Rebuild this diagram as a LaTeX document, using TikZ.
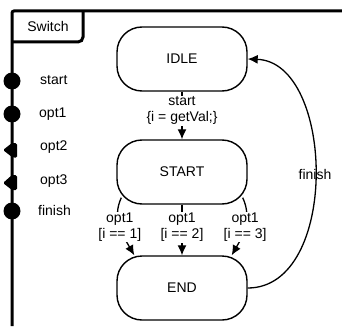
\documentclass[tikz,border=0pt]{standalone}
\usepackage{fontspec}
\setmainfont{Liberation Sans}
\usetikzlibrary{arrows.meta,calc}
\begin{document}
\begin{tikzpicture}[x=1pt,y=-1pt,
  txt/.style={font=\fontsize{14}{16}\selectfont, inner sep=1pt},
  state/.style={txt, draw, line width=1.4pt, rounded corners=25pt,
    minimum width=130pt, minimum height=64pt},
  frame/.style={line width=3pt},
  port/.style={circle, fill=black, minimum size=17pt, inner sep=0pt},
  portlbl/.style={txt, anchor=west},
  trans/.style={line width=1.3pt, -{Latex[length=10pt,width=9pt]}},
  guard/.style={txt, align=center, fill=white, inner sep=1pt},
]
\useasboundingbox (0,0) rectangle (342,326);

% component frame and its name tab
\draw[frame, rounded corners=2pt] (12,326) -- (12,11) -- (342,11);
\draw[frame, rounded corners=5pt] (12,42) -- (83,42) -- (83,11);
\node[txt] (swname) at (48,26) {Switch};

% ports on the left border
\node[port] (pstart) at (12,81) {};
\node[port] (popt1) at (12,114) {};
\fill[rounded corners=1.5pt] (17,143) -- (12,143) -- (3,150) -- (12,157) -- (17,158) -- cycle;
\fill[rounded corners=1.5pt] (17,175) -- (12,175) -- (3,183) -- (12,190) -- (17,190) -- cycle;
\node[port] (pfinish) at (12,211) {};

\node[portlbl] (lstart) at (39,80) {start};
\node[portlbl] (lopt1) at (38,114) {opt1};
\node[portlbl] (lopt2) at (39,147) {opt2};
\node[portlbl] (lopt3) at (39,181) {opt3};
\node[portlbl] (lfinish) at (37,210) {finish};

% states
\node[state] (IDLE) at (182,59) {IDLE};
\node[state] (START) at (182,172) {START};
\node[state] (END) at (182,288) {END};

% transitions
\draw[trans] (IDLE) -- node[guard, pos=0.4] (tstart) {start\\\{i = getVal;\}} (START);

\draw[trans] ($(START.south west)+(5,-7)$) to[out=-115,in=120]
  node[guard, pos=0.5] (t1) {opt1\\{}[i == 1]} ($(END.north west)+(18,0)$);
\draw[trans] (START) -- node[guard, pos=0.45] (t2) {opt1\\{}[i == 2]} (END);
\draw[trans] ($(START.south east)+(-5,-7)$) to[out=-65,in=60]
  node[guard, pos=0.5] (t3) {opt1\\{}[i == 3]} ($(END.north east)+(-16,0)$);

\draw[trans] (END.east) .. controls (340,288) and (335,62) ..
  node[txt, pos=0.5] (tfinish) {finish} (IDLE.east);
\end{tikzpicture}
\end{document}
